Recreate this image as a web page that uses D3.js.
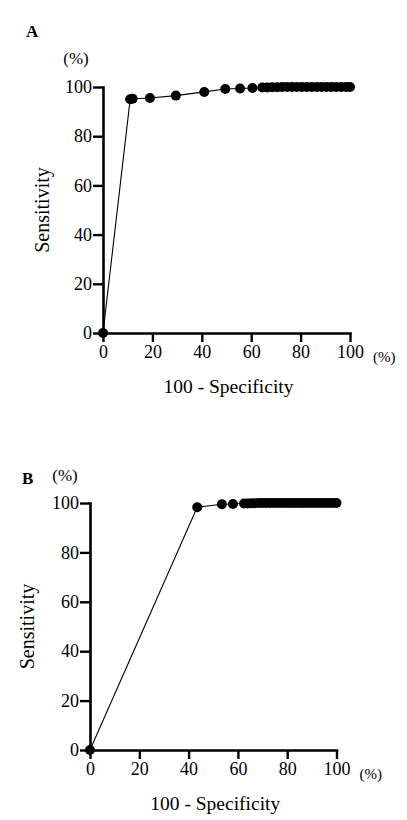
<!DOCTYPE html>
<html><head><meta charset="utf-8">
<script src="https://cdn.jsdelivr.net/npm/d3@7"></script>
<style>body{margin:0;background:#fff}svg{display:block}</style>
</head><body>
<svg id="c" width="407" height="820"></svg>
<script>
const ticks = [0, 20, 40, 60, 80, 100];
const specA = [0, 11, 12, 19, 29.5, 41, 49.5, 55.5, 60.5, 64.5, 66.5, 68.5, 70.5, 72.5, 74.5, 76.5, 78.5, 80.5, 82.5, 84.5, 86.5, 88.5, 90.5, 92.5, 94.5, 96.5, 98.5, 100];
const sensA = [0, 95, 95.2, 95.5, 96.5, 98, 99.2, 99.4, 99.6, 99.8, 99.8, 99.9, 99.9, 100, 100, 100, 100, 100, 100, 100, 100, 100, 100, 100, 100, 100, 100, 100];
const specB = [0, 43.5, 53.5, 58, 62.5, 64, 65.5, 67, 68.5, 70, 71.5, 73, 74.5, 76, 77.5, 79, 80.5, 82, 83.5, 85, 86.5, 88, 89.5, 91, 92.5, 94, 95.5, 97, 98.5, 100];
const sensB = [0, 98.3, 99.5, 99.6, 99.8, 99.8, 99.9, 99.9, 100, 100, 100, 100, 100, 100, 100, 100, 100, 100, 100, 100, 100, 100, 100, 100, 100, 100, 100, 100, 100, 100];

const FONT = '"Liberation Serif"';
const svg = d3.select("#c");

function txt(g, size) {
  return g.append("text").style("font-family", FONT).style("font-size", size + "px").attr("fill", "#000");
}

function panel(cfg) {
  const x = d3.scaleLinear().domain([0, 100]).range([cfg.x0, cfg.x1]);
  const y = d3.scaleLinear().domain([0, 100]).range([cfg.y0, cfg.y1]);
  const g = svg.append("g");

  const xa = g.append("g").attr("transform", `translate(0,${cfg.y0})`)
    .call(d3.axisBottom(x).tickValues(ticks).tickSize(9).tickSizeOuter(0).tickPadding(3));
  const ya = g.append("g").attr("transform", `translate(${cfg.x0},0)`)
    .call(d3.axisLeft(y).tickValues(ticks).tickSize(10).tickSizeOuter(0).tickPadding(1));
  [xa, ya].forEach(a => {
    a.attr("font-family", null).attr("font-size", null);
    a.selectAll("path").attr("stroke", "#000").attr("stroke-width", 2.6).attr("stroke-linecap", "square");
    a.selectAll("line").attr("stroke", "#000").attr("stroke-width", 2.4);
    a.selectAll("text").style("font-family", FONT).style("font-size", "18px").attr("fill", "#000");
  });

  const pts = cfg.spec.map((s, i) => [s, cfg.sens[i]]);
  g.append("path").datum(pts)
    .attr("fill", "none").attr("stroke", "#000").attr("stroke-width", 1.1)
    .attr("d", d3.line().x(d => x(d[0])).y(d => y(d[1])));
  g.selectAll("circle").data(pts).join("circle")
    .attr("cx", d => x(d[0])).attr("cy", d => y(d[1])).attr("r", 5).attr("fill", "#000");

  txt(g, 17).attr("x", cfg.lx).attr("y", cfg.ly).style("font-weight", "bold").text(cfg.letter);
  txt(g, 17).attr("x", cfg.pyx).attr("y", cfg.pyy).attr("text-anchor", "middle").text("(%)");
  txt(g, 15).attr("x", cfg.x1 + 23).attr("y", cfg.y0 + 29).text("(%)");
  txt(g, 19.5).attr("x", (cfg.x0 + cfg.x1) / 2 + 2).attr("y", cfg.y0 + 60).attr("text-anchor", "middle").text("100 - Specificity");
  txt(g, 20).attr("transform", `translate(${cfg.sx},${(cfg.y0 + cfg.y1) / 2}) rotate(-90)`)
    .attr("text-anchor", "middle").text("Sensitivity");
}

panel({x0: 103, x1: 350, y0: 333, y1: 87, spec: specA, sens: sensA,
  letter: "A", lx: 26, ly: 37, pyx: 76, pyy: 64, sx: 49});
panel({x0: 90, x1: 336.5, y0: 750, y1: 503, spec: specB, sens: sensB,
  letter: "B", lx: 22, ly: 484, pyx: 65, pyy: 481, sx: 34});
</script>
</body></html>
